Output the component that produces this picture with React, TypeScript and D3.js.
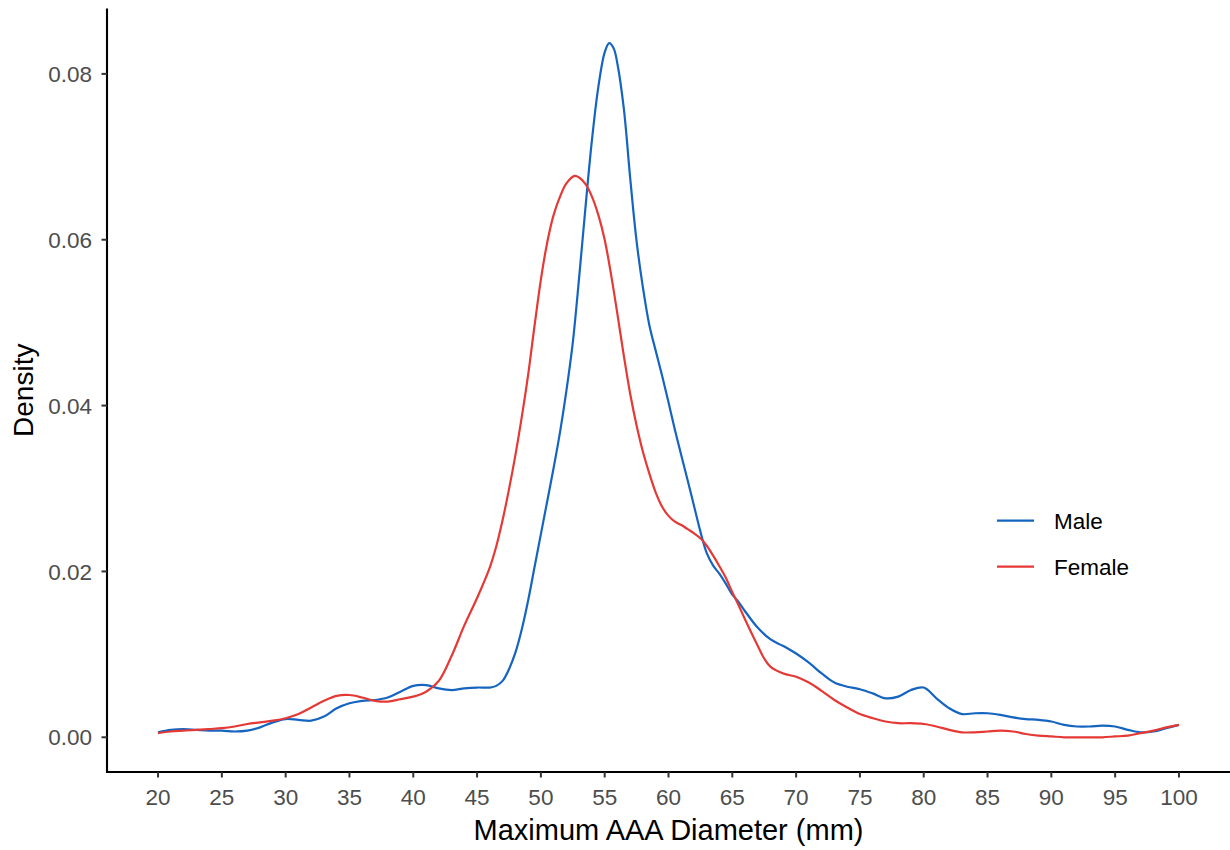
import React from "react";
import * as d3 from "d3";

// Kernel density estimates of maximum AAA diameter, by sex
const maleDiameter = [
  20, 21, 22, 23, 24, 25, 26, 27, 28, 29, 30, 31, 32, 33, 34, 35, 36, 37, 38, 39, 40, 41, 42, 43, 44, 45, 46,
  46.5, 47, 47.5, 48, 48.5, 49, 49.5, 50, 50.5, 51, 51.5, 52, 52.5, 53, 53.5, 54, 54.5, 55, 55.35, 55.7, 56,
  56.5, 57, 57.5, 58, 58.5, 59, 59.5, 60, 60.5, 61, 61.5, 62, 62.5, 63, 63.5, 64, 64.5, 65, 65.5, 66,
  67, 68, 69, 70, 71, 72, 73, 74, 75, 76, 77, 78, 79, 80, 81, 82, 83, 84, 85, 86, 87, 88, 89, 90,
  91, 92, 93, 94, 95, 96, 97, 98, 99, 100,
];
const maleDensity = [
  0.0006, 0.0009, 0.001, 0.0009, 0.0008, 0.0008, 0.0007, 0.0008, 0.0012, 0.0018, 0.0022, 0.0021, 0.002,
  0.0025, 0.0035, 0.0041, 0.0044, 0.0045, 0.0048, 0.0055, 0.0062, 0.0063, 0.0059, 0.0057, 0.0059, 0.006,
  0.006, 0.0062, 0.0068, 0.0082, 0.0102, 0.013, 0.0165, 0.0205, 0.0245, 0.0285, 0.0325, 0.0368, 0.0418,
  0.0476, 0.0555, 0.064, 0.072, 0.0784, 0.0826, 0.0837, 0.0831, 0.0812, 0.0758, 0.0674, 0.0598, 0.0542,
  0.0497, 0.0466, 0.0436, 0.0404, 0.0371, 0.034, 0.031, 0.0279, 0.0248, 0.0222, 0.0207, 0.0197, 0.0185,
  0.0172, 0.0163, 0.0152, 0.0132, 0.0118, 0.011, 0.0101, 0.009, 0.0077, 0.0066, 0.0061, 0.0058, 0.0053,
  0.0047, 0.0049, 0.0057, 0.006, 0.0047, 0.0035, 0.0028, 0.0029, 0.0029, 0.0027, 0.0024, 0.0022, 0.0021,
  0.0019, 0.0015, 0.0013, 0.0013, 0.0014, 0.0013, 0.0009, 0.0006, 0.0007, 0.0011, 0.0015,
];

const femaleDiameter = [
  20, 21, 22, 23, 24, 25, 26, 27, 28, 29, 30, 31, 32, 33, 34, 35, 36, 37, 38, 39, 40, 41, 42, 43, 44, 45, 46,
  46.5, 47, 47.5, 48, 48.5, 49, 49.5, 50, 50.5, 51, 51.5, 52, 52.65, 53, 53.5, 54, 54.5, 55, 55.5, 56, 56.5,
  57, 57.5, 58, 58.5, 59, 59.5, 60, 60.5, 61, 61.5, 62, 62.5, 63, 63.5, 64, 64.5, 65, 65.5, 66, 67, 67.5,
  68, 69, 70, 71, 72, 73, 74, 75, 76, 77, 78, 79, 80, 81, 82, 83, 84, 85, 86, 87, 88, 89, 90, 91, 92, 93,
  94, 95, 96, 97, 98, 99, 100,
];
const femaleDensity = [
  0.0005, 0.0007, 0.0008, 0.0009, 0.001, 0.0011, 0.0013, 0.0016, 0.0018, 0.002, 0.0023, 0.0028, 0.0036,
  0.0044, 0.005, 0.0051, 0.0048, 0.0044, 0.0043, 0.0046, 0.0049, 0.0055, 0.0068, 0.0098, 0.0135, 0.0168,
  0.0205, 0.023, 0.0262, 0.0299, 0.034, 0.0386, 0.0437, 0.0496, 0.0552, 0.0597, 0.063, 0.0652, 0.0668,
  0.0677, 0.0675, 0.0667, 0.0652, 0.063, 0.06, 0.0558, 0.051, 0.046, 0.0414, 0.0376, 0.0344, 0.0318,
  0.0295, 0.0278, 0.0267, 0.026, 0.0256, 0.0251, 0.0246, 0.024, 0.0231, 0.0219, 0.0206, 0.0192, 0.0175,
  0.0159, 0.0142, 0.011, 0.0095, 0.0085, 0.0077, 0.0073, 0.0066, 0.0056, 0.0045, 0.0036, 0.0028, 0.0023,
  0.0019, 0.0017, 0.0017, 0.0016, 0.0013, 0.0009, 0.0006, 0.0006, 0.0007, 0.0008, 0.0007, 0.0004, 0.0002,
  0.0001, 0.0, 0.0, 0.0, 0.0, 0.0001, 0.0002, 0.0005, 0.0008, 0.0012, 0.0015,
];

const seriesNames = ["Male", "Female"];
const seriesColors = ["#1565C0", "#E53935"];
const xTicks = [20, 25, 30, 35, 40, 45, 50, 55, 60, 65, 70, 75, 80, 85, 90, 95, 100];
const yTicks = [0, 0.02, 0.04, 0.06, 0.08];

const WIDTH = 1230;
const HEIGHT = 850;
const panel = { left: 107, right: 1230, top: 8.5, bottom: 772 };

export default function App() {
  const xMin = 20, xMax = 100;
  const xPad = (xMax - xMin) * 0.05;
  const x = d3.scaleLinear().domain([xMin - xPad, xMax + xPad]).range([panel.left, panel.right]);

  const yMax = d3.max([...maleDensity, ...femaleDensity]) as number;
  const yPad = yMax * 0.05;
  const y = d3.scaleLinear().domain([-yPad, yMax + yPad]).range([panel.bottom, panel.top]);

  const line = d3
    .line<[number, number]>()
    .x((d) => x(d[0]))
    .y((d) => y(d[1]))
    .curve(d3.curveCatmullRom.alpha(0.5));

  const series = [
    d3.zip(maleDiameter, maleDensity) as [number, number][],
    d3.zip(femaleDiameter, femaleDensity) as [number, number][],
  ];

  const fmt = d3.format(".2f");
  const tickColor = "#333333";
  const labelColor = "#4D4D4D";
  const font = "'Liberation Sans', Arial, Helvetica, sans-serif";

  const legendX = 997;
  const legendY = [520.7, 566.7];

  return (
    <svg
      width={WIDTH}
      height={HEIGHT}
      style={{ position: "absolute", left: 0, top: 0, background: "#fff" }}
      fontFamily={font}
    >
      {/* density curves */}
      {series.map((pts, i) => (
        <path key={seriesNames[i]} d={line(pts) ?? ""} fill="none" stroke={seriesColors[i]} strokeWidth={2.2} />
      ))}

      {/* y axis */}
      <line x1={panel.left} x2={panel.left} y1={panel.top} y2={panel.bottom + 1} stroke="#000" strokeWidth={2.1} />
      {yTicks.map((t) => (
        <g key={t} transform={`translate(0,${y(t)})`}>
          <line x1={panel.left - 5.5} x2={panel.left} stroke={tickColor} strokeWidth={2} />
          <text x={92} dy="0.36em" textAnchor="end" fontSize={22.5} fill={labelColor}>
            {fmt(t)}
          </text>
        </g>
      ))}

      {/* x axis */}
      <line x1={panel.left - 1} x2={panel.right} y1={panel.bottom} y2={panel.bottom} stroke="#000" strokeWidth={2.1} />
      {xTicks.map((t) => (
        <g key={t} transform={`translate(${x(t)},0)`}>
          <line y1={panel.bottom} y2={panel.bottom + 5.5} stroke={tickColor} strokeWidth={2} />
          <text y={805} textAnchor="middle" fontSize={22.5} fill={labelColor}>
            {t}
          </text>
        </g>
      ))}

      {/* axis titles */}
      <text x={(panel.left + panel.right) / 2} y={840} textAnchor="middle" fontSize={29} fill="#000">
        Maximum AAA Diameter (mm)
      </text>
      <text
        transform={`translate(33,${(panel.top + panel.bottom) / 2}) rotate(-90)`}
        textAnchor="middle"
        fontSize={28}
        fill="#000"
      >
        Density
      </text>

      {/* legend */}
      {seriesNames.map((name, i) => (
        <g key={name} transform={`translate(${legendX},${legendY[i]})`}>
          <line x1={0} x2={37} stroke={seriesColors[i]} strokeWidth={2.2} />
          <text x={57} dy="0.36em" fontSize={22.5} fill="#000">
            {name}
          </text>
        </g>
      ))}
    </svg>
  );
}
